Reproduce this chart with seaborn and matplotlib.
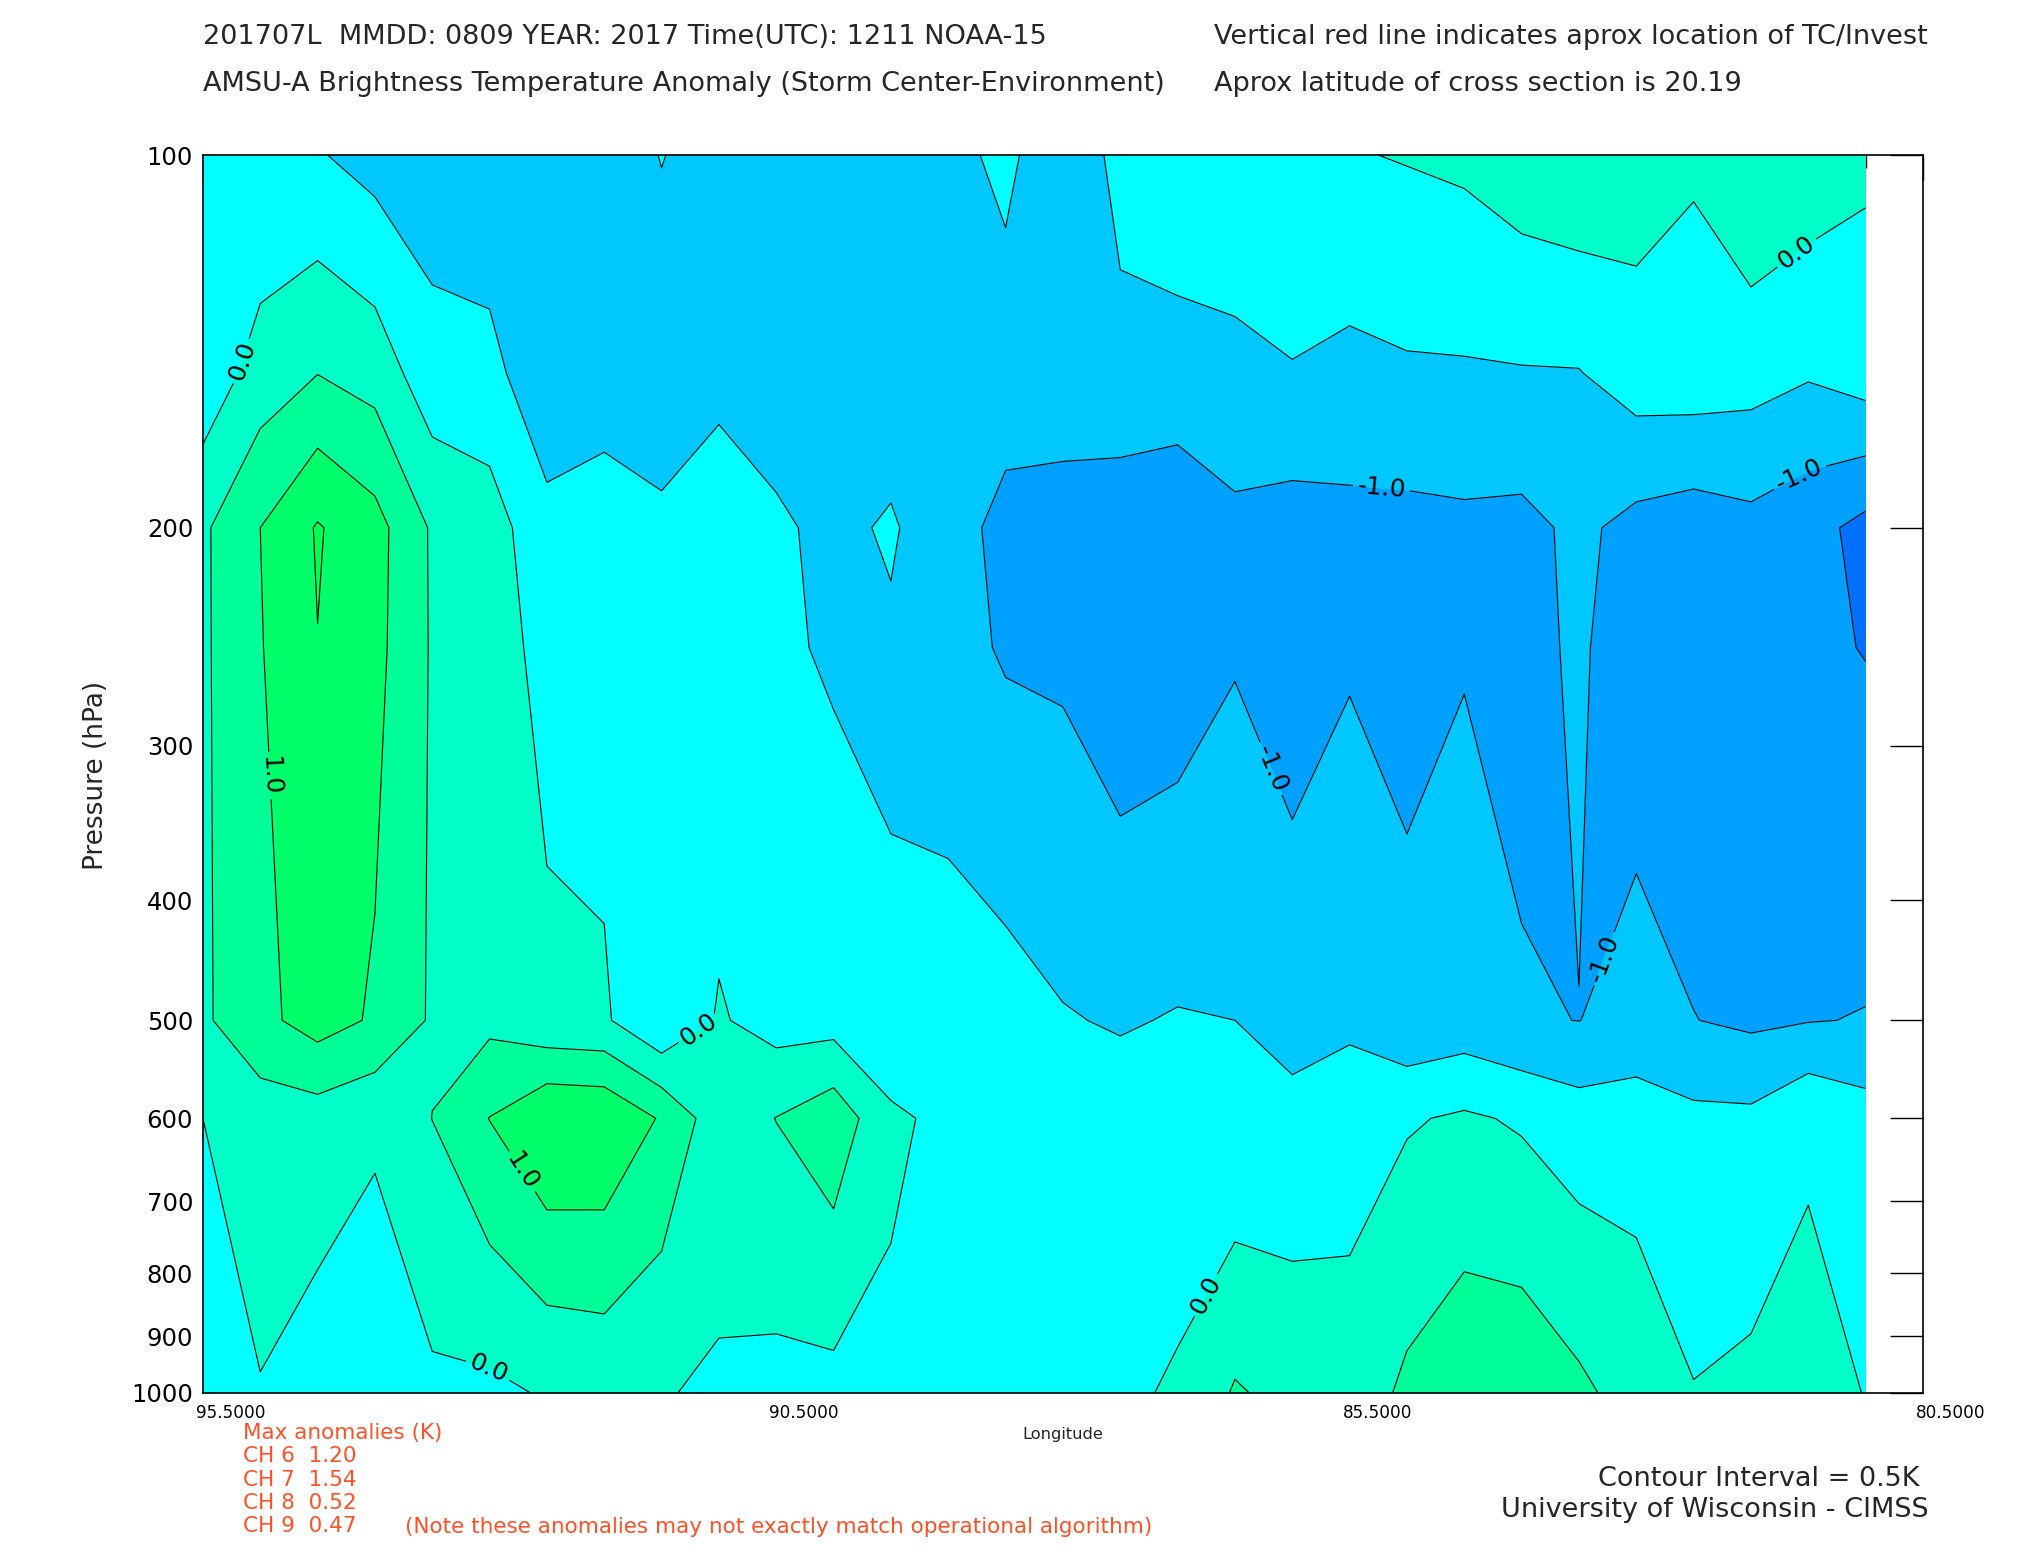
import numpy as np
import seaborn as sns
import matplotlib
matplotlib.use("Agg")
import matplotlib.pyplot as plt
from matplotlib.ticker import MultipleLocator
from matplotlib.transforms import ScaledTranslation

# grid: longitude columns (deg W) and pressure rows (hPa)
lons = [95.5, 95.0, 94.5, 94.0, 93.5, 93.0, 92.5, 92.0, 91.5, 91.0,
        90.5, 90.0, 89.5, 89.0, 88.5, 88.0, 87.5, 87.0, 86.5, 86.0,
        85.5, 85.0, 84.5, 84.0, 83.5, 83.0, 82.5, 82.0, 81.5, 81.0]
pres = [100, 150, 200, 250, 500, 600, 1000]

# brightness temperature anomaly (K), one list per pressure level
t100 = [-0.38, -0.47, -0.46, -0.69, -0.78, -0.79, -0.85, -0.80, -0.48, -0.75,
        -0.75, -0.80, -0.85, -0.60, -0.42, -0.75, -0.40, -0.30, -0.30, -0.20,
        -0.03, 0.03, 0.10, 0.30, 0.41, 0.26, 0.06, 0.46, 0.31, 0.08]
t150 = [-0.36, 0.22, 0.49, 0.30, -0.31, -0.38, -0.79, -0.71, -0.82, -0.60,
        -0.67, -0.70, -0.71, -0.85, -0.66, -0.80, -0.59, -0.61, -0.57, -0.52,
        -0.63, -0.56, -0.55, -0.53, -0.52, -0.25, -0.22, -0.30, -0.45, -0.25]
t200 = [0.42, 1.00, 1.54, 1.18, 0.44, 0.25, -0.38, -0.30, -0.40, -0.30,
        -0.45, -0.58, -0.46, -0.72, -1.20, -1.15, -1.34, -1.45, -1.13, -1.21,
        -1.14, -1.14, -1.10, -1.13, -0.90, -1.15, -1.26, -1.14, -1.32, -1.65]
t250 = [0.42, 0.97, 1.49, 1.15, 0.45, 0.25, -0.17, -0.20, -0.38, -0.40,
        -0.42, -0.56, -0.55, -0.80, -1.06, -1.10, -1.38, -1.30, -1.05, -1.30,
        -1.06, -1.10, -1.03, -1.10, -0.95, -1.20, -1.35, -1.30, -1.40, -1.52]
t500 = [0.42, 0.87, 1.21, 0.94, 0.44, 0.38, 0.12, 0.07, -0.48, 0.05,
        -0.20, -0.20, -0.45, -0.27, -0.31, -0.47, -0.54, -0.47, -0.50, -0.65,
        -0.60, -0.90, -0.79, -0.965, -1.005, -0.87, -0.99, -1.09, -1.02, -0.98]
t600 = [0.00, 0.24, 0.27, 0.11, 0.505, 1.01, 1.48, 1.44, 0.95, 0.20,
        0.51, 0.82, 0.10, -0.13, -0.20, -0.25, -0.29, -0.20, -0.45, -0.38,
        -0.20, -0.05, 0.07, -0.06, -0.27, -0.23, -0.39, -0.40, -0.06, -0.29]
t1000 = [-0.30, -0.02, -0.22, -0.44, -0.09, -0.10, 0.04, 0.12, 0.02, -0.05,
         -0.14, -0.15, -0.12, -0.20, -0.25, -0.30, -0.06, 0.04, 0.55, 0.35,
         0.20, 0.60, 0.84, 0.85, 0.60, 0.30, 0.02, 0.11, 0.13, -0.01]

ytick_vals = [100, 200, 300, 400, 500, 600, 700, 800, 900, 1000]
xtick_vals = [95.5, 90.5, 85.5, 80.5]
xtick_text = ["95.5000", "90.5000", "85.5000", "80.5000"]

fill_levels = [-3.0, -1.5, -1.0, -0.5, 0.0, 0.5, 1.0, 1.5, 3.0]
plain_levels = [-1.5, -0.5, 0.5, 1.5]
labelled_levels = [-1.0, 0.0, 1.0]
fill_colors = sns.color_palette(["#0070FF", "#00A0FF", "#00C8FF", "#00FFFF",
                                 "#00FFC8", "#00FF98", "#00FF68", "#00FF50"])

sns.set_style("white")
plt.rcParams["font.family"] = ["DejaVu Sans"]

Z = np.array([t100, t150, t200, t250, t500, t600, t1000])
# pressure axis is logarithmic: work in log10(p)
ylog = np.log10(pres)

fig = plt.figure(figsize=(20.25, 15.5), dpi=100)
ax = fig.add_axes([0.1002, 0.1013, 0.8494, 0.7987])
ax.set_xlim(95.5, 80.5)
ax.set_ylim(3.0, 2.0)

ax.contourf(lons, ylog, Z, levels=fill_levels, colors=fill_colors)
ax.contour(lons, ylog, Z, levels=plain_levels, colors="k", linewidths=0.8,
           negative_linestyles="solid")
cs = ax.contour(lons, ylog, Z, levels=labelled_levels, colors="k", linewidths=0.8,
                negative_linestyles="solid")

label_lon = [95.24, 94.9, 91.19, 92.67, 92.99, 86.8, 85.22, 86.18, 83.3, 81.6, 81.5]
label_p = [146, 317, 506, 658, 943, 829, 185, 313, 445, 180, 123.5]
cs.clabel(manual=list(zip(label_lon, np.log10(label_p))), fmt="%.1f", fontsize=18,
          inline=True, inline_spacing=4)

ax.set_yticks(np.log10(ytick_vals))
ax.set_yticklabels([str(v) for v in ytick_vals], fontsize=17.5)
ax.set_xticks(xtick_vals)
ax.set_xticklabels(xtick_text, fontsize=12.2)
ax.xaxis.set_minor_locator(MultipleLocator(0.5))

ax.tick_params(which="both", direction="in", top=True, right=True, width=1.0, colors="k")
ax.tick_params(axis="y", which="major", length=24, pad=7)
ax.tick_params(axis="x", which="major", length=18, pad=8)
ax.tick_params(axis="x", which="minor", length=9)
for lab in ax.get_xticklabels():
    lab.set_transform(lab.get_transform() + ScaledTranslation(0.28, 0, fig.dpi_scale_trans))
for sp in ax.spines.values():
    sp.set_linewidth(1.2)
    sp.set_color("k")

fig.text(0.5249, 1 - 1435 / 1550, "Longitude", ha="center", va="center", fontsize=11.7)
fig.text(96 / 2025, 1 - 775 / 1550, "Pressure (hPa)", ha="center", va="center",
         rotation=90, fontsize=19)

fig.text(203 / 2025, 1 - 37 / 1550, "201707L  MMDD: 0809 YEAR: 2017 Time(UTC): 1211 NOAA-15",
         ha="left", va="center", fontsize=19.5)
fig.text(203 / 2025, 1 - 84 / 1550,
         "AMSU-A Brightness Temperature Anomaly (Storm Center-Environment)",
         ha="left", va="center", fontsize=19.5)
fig.text(1214 / 2025, 1 - 37 / 1550, "Vertical red line indicates aprox location of TC/Invest",
         ha="left", va="center", fontsize=19.5)
fig.text(1214 / 2025, 1 - 84 / 1550, "Aprox latitude of cross section is 20.19",
         ha="left", va="center", fontsize=19.5)

orange = "#FF5028"
anom_lines = ["Max anomalies (K)", "CH 6  1.20", "CH 7  1.54", "CH 8  0.52", "CH 9  0.47"]
for i, s in enumerate(anom_lines):
    fig.text(243 / 2025, 1 - (1433 + 23.3 * i) / 1550, s, ha="left", va="center",
             fontsize=15.5, color=orange)
fig.text(405 / 2025, 1 - 1527 / 1550,
         "(Note these anomalies may not exactly match operational algorithm)",
         ha="left", va="center", fontsize=15.5, color=orange)

fig.text(1919 / 2025, 1 - 1479 / 1550, "Contour Interval = 0.5K", ha="right", va="center",
         fontsize=19.5)
fig.text(1929 / 2025, 1 - 1510 / 1550, "University of Wisconsin - CIMSS", ha="right",
         va="center", fontsize=19.5)

fig.savefig("out.png", dpi=100, facecolor="white")
